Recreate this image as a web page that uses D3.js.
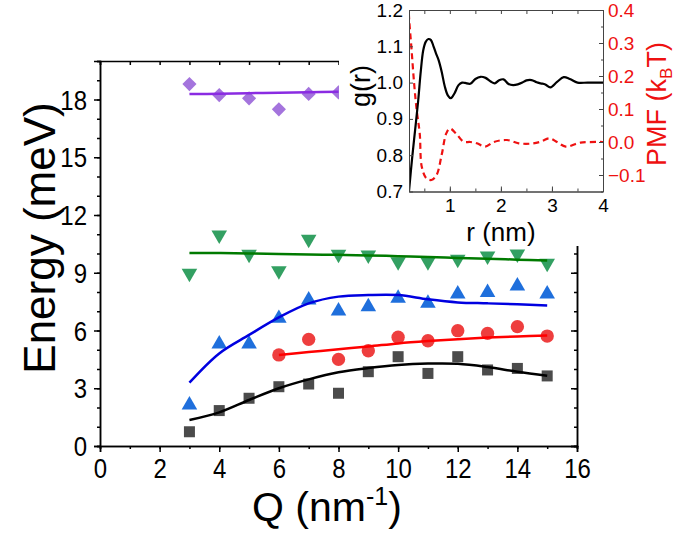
<!DOCTYPE html>
<html>
<head>
<meta charset="utf-8">
<script src="https://cdn.jsdelivr.net/npm/d3@7"></script>
<style>
  body { margin: 0; background: #fff; }
  svg { display: block; font-family: "Liberation Sans", Arial, sans-serif; }
</style>
</head>
<body>
<div class="svg-mount"></div>
<script>
// main chart data, Q in nm^-1, energies in meV
const qAll = [3, 4, 5, 6, 7, 8, 9, 10, 11, 12, 13, 14, 15];
const qRed = [6, 7, 8, 9, 10, 11, 12, 13, 14, 15];
const qPurple = [3, 4, 5, 6, 7, 8];

const blackPts = [0.74, 1.84, 2.48, 3.08, 3.22, 2.74, 3.86, 4.64, 3.77, 4.64, 3.95, 4.03, 3.64];
const blackFit = [1.35, 1.75, 2.39, 3.0, 3.46, 3.83, 4.05, 4.21, 4.28, 4.27, 4.1, 3.86, 3.65];
const redPts = [4.73, 5.54, 4.5, 4.95, 5.65, 5.47, 5.99, 5.85, 6.2, 5.71];
const redFit = [4.73, 4.88, 5.03, 5.17, 5.33, 5.45, 5.55, 5.63, 5.69, 5.74];
const bluePts = [2.13, 5.3, 5.3, 6.63, 7.58, 7.01, 7.24, 7.67, 7.41, 7.9, 7.97, 8.31, 7.9];
const blueFit = [3.29, 4.81, 5.77, 6.68, 7.41, 7.76, 7.84, 7.84, 7.62, 7.46, 7.41, 7.36, 7.3];
const greenPts = [8.97, 10.96, 9.96, 9.1, 10.74, 9.96, 9.92, 9.57, 9.57, 9.7, 9.87, 9.97, 9.49];
const greenFit = [10.02, 10.02, 10.0, 9.98, 9.95, 9.93, 9.9, 9.86, 9.82, 9.77, 9.73, 9.68, 9.63];
const purplePts = [18.8, 18.23, 18.06, 17.49, 18.29, 18.37];
const purpleFit = [18.28, 18.3, 18.33, 18.35, 18.38, 18.4];

const xTicks = [0, 2, 4, 6, 8, 10, 12, 14, 16];
const yTicks = [0, 3, 6, 9, 12, 15, 18];

// inset data: g(r) and PMF
const rG = [0.18, 0.2, 0.26, 0.32, 0.38, 0.43, 0.48, 0.53, 0.58, 0.63, 0.68, 0.73, 0.78, 0.84, 0.9, 0.96, 1.02, 1.09, 1.17, 1.24, 1.3, 1.4, 1.5, 1.6, 1.7, 1.8, 1.88, 1.96, 2.05, 2.15, 2.24, 2.33, 2.42, 2.5, 2.6, 2.7, 2.78, 2.87, 2.97, 3.1, 3.23, 3.35, 3.5, 3.7, 4.0];
const gVals = [0.66, 0.70, 0.79, 0.87, 0.95, 1.03, 1.09, 1.113, 1.12, 1.117, 1.10, 1.08, 1.062, 1.03, 0.99, 0.965, 0.957, 0.97, 0.993, 1.0, 0.999, 0.997, 1.01, 1.016, 1.013, 1.003, 0.998, 1.006, 1.009, 0.996, 0.993, 0.995, 1.0, 1.006, 1.007, 1.001, 0.998, 0.995, 0.987, 1.002, 1.015, 1.01, 1.0, 1.0, 1.0];
const rP = [0.19, 0.2, 0.25, 0.3, 0.35, 0.41, 0.45, 0.54, 0.64, 0.74, 0.84, 0.93, 1.0, 1.12, 1.27, 1.4, 1.53, 1.69, 1.86, 2.12, 2.35, 2.58, 2.78, 2.95, 3.1, 3.27, 3.56, 4.0];
const pmfVals = [0.42, 0.38, 0.28, 0.178, 0.097, 0.026, -0.075, -0.11, -0.115, -0.1, -0.039, 0.026, 0.041, 0.026, 0.001, 0.0, -0.004, -0.014, 0.0, 0.006, -0.004, -0.005, 0.001, 0.011, 0.0, -0.014, -0.002, 0.0];

const gTicks = [0.7, 0.8, 0.9, 1.0, 1.1, 1.2];
const pmfTicks = [-0.1, 0.0, 0.1, 0.2, 0.3, 0.4];
const rTicks = [1, 2, 3, 4];

const W = 677, H = 538;
const font = "'Liberation Sans', Arial, sans-serif";

const svg = d3.select(".svg-mount").append("svg")
  .attr("width", W).attr("height", H);

// ---- main chart ----
const x = d3.scaleLinear().domain([0, 16]).range([100, 577]);
const y = d3.scaleLinear().domain([0, 20]).range([446, 61]);

function styleAxis(g, sw) {
  g.select(".domain").attr("stroke", "#000").attr("stroke-width", sw);
  g.selectAll(".tick line").attr("stroke", "#000").attr("stroke-width", sw);
}

// minor ticks only, no labels
function minor(axis, tr) {
  svg.append("g").attr("transform", tr)
    .call(axis.tickFormat(""))
    .call(styleAxis, 1.5)
    .selectAll("text").remove();
}

minor(d3.axisBottom(x).tickValues(d3.range(0, 17)).tickSize(3), "translate(0,446)");
svg.append("g").attr("transform", "translate(0,446)")
  .call(d3.axisBottom(x).tickValues(xTicks).tickSize(6).tickFormat(d3.format("d")))
  .call(styleAxis, 1.5)
  .selectAll("text")
  .attr("y", null).attr("dy", null)
  .attr("transform", "translate(0,32) scale(1,1.12)")
  .attr("font-size", 24).attr("font-family", font).attr("fill", "#000");

minor(d3.axisLeft(y).tickValues(d3.range(0, 21)).tickSize(3), "translate(100,0)");
svg.append("g").attr("transform", "translate(100,0)")
  .call(d3.axisLeft(y).tickValues(yTicks).tickSize(6).tickFormat(d3.format("d")))
  .call(styleAxis, 1.5)
  .selectAll("text")
  .attr("x", null).attr("dy", "0.36em")
  .attr("transform", "translate(-13,0) scale(1,1.12)")
  .attr("font-size", 24).attr("font-family", font).attr("fill", "#000");

// mirrored axes with inward ticks
minor(d3.axisBottom(x).tickValues(d3.range(0, 17)).tickSize(4), "translate(0,61)");
minor(d3.axisLeft(y).tickValues(d3.range(0, 21)).tickSize(3), "translate(577,0)");
minor(d3.axisLeft(y).tickValues(yTicks).tickSize(6), "translate(577,0)");

const line = d3.line().x(d => x(d[0])).y(d => y(d[1])).curve(d3.curveCatmullRom);

const series = [
  { q: qAll, pts: blackPts, fit: blackFit, fill: "#4b4b4b", stroke: "#000000", sym: d3.symbolSquare, size: 121, rot: 0 },
  { q: qRed, pts: redPts, fit: redFit, fill: "#ee3e3e", stroke: "#ff0000", sym: d3.symbolCircle, size: 140, rot: 0 },
  { q: qAll, pts: bluePts, fit: blueFit, fill: "#1f6fdc", stroke: "#0000e0", sym: d3.symbolTriangle, size: 105, rot: 0 },
  { q: qAll, pts: greenPts, fit: greenFit, fill: "#33a062", stroke: "#007a00", sym: d3.symbolTriangle, size: 105, rot: 180 },
  { q: qPurple, pts: purplePts, fit: purpleFit, fill: "#a474dd", stroke: "#8a2be2", sym: d3.symbolSquare, size: 100, rot: 45 },
];

series.forEach(s => {
  svg.append("g").selectAll("path")
    .data(s.q.map((q, i) => [q, s.pts[i]]))
    .join("path")
    .attr("d", d3.symbol().type(s.sym).size(s.size))
    .attr("transform", d => `translate(${x(d[0])},${y(d[1])}) rotate(${s.rot})`)
    .attr("fill", s.fill);
  svg.append("path")
    .datum(s.q.map((q, i) => [q, s.fit[i]]))
    .attr("d", line)
    .attr("fill", "none")
    .attr("stroke", s.stroke)
    .attr("stroke-width", 2.5);
});

svg.append("text")
  .attr("transform", "translate(55,238) rotate(-90)")
  .attr("text-anchor", "middle")
  .attr("font-size", 44).attr("font-family", font)
  .text("Energy (meV)");

const xt = svg.append("text")
  .attr("x", 252).attr("y", 521)
  .attr("font-size", 41).attr("font-family", font);
xt.append("tspan").text("Q (nm");
xt.append("tspan").attr("font-size", 25).attr("dy", -16).text("-1");
xt.append("tspan").attr("dy", 16).text(")");

// ---- inset ----
svg.append("rect").attr("x", 339).attr("y", 0).attr("width", W - 339).attr("height", 246).attr("fill", "#fff");

const ix = d3.scaleLinear().domain([0.2, 4]).range([409, 603]);
const iyG = d3.scaleLinear().domain([0.7, 1.2]).range([191.5, 10]);
const iyP = d3.scaleLinear().domain([-0.15, 0.4]).range([191.5, 10]);

function styleInset(g) {
  g.select(".domain").attr("stroke", "#444").attr("stroke-width", 1);
  g.selectAll(".tick line").attr("stroke", "#444").attr("stroke-width", 1);
}
function insetMinor(axis, tr) {
  svg.append("g").attr("transform", tr)
    .call(axis.tickSizeOuter(0).tickFormat(""))
    .call(styleInset)
    .selectAll("text").remove();
}

svg.append("defs").append("clipPath").attr("id", "insetClip")
  .append("rect").attr("x", 409).attr("y", 10).attr("width", 194).attr("height", 181.5);

const gLine = d3.line().x(d => ix(d[0])).y(d => iyG(d[1])).curve(d3.curveCatmullRom);
const pLine = d3.line().x(d => ix(d[0])).y(d => iyP(d[1])).curve(d3.curveCatmullRom);

svg.append("path")
  .datum(rP.map((r, i) => [r, pmfVals[i]]))
  .attr("clip-path", "url(#insetClip)")
  .attr("d", pLine).attr("fill", "none")
  .attr("stroke", "#ee1111").attr("stroke-width", 2.2).attr("stroke-dasharray", "6,4");
svg.append("path")
  .datum(rG.map((r, i) => [r, gVals[i]]))
  .attr("clip-path", "url(#insetClip)")
  .attr("d", gLine).attr("fill", "none")
  .attr("stroke", "#000").attr("stroke-width", 2.2);

// inset axes, ticks inward
insetMinor(d3.axisBottom(ix).tickValues(d3.range(0.5, 4.01, 0.5)).tickSizeInner(-3), "translate(0,191.5)");
svg.append("g").attr("transform", "translate(0,191.5)")
  .call(d3.axisBottom(ix).tickValues(rTicks).tickSizeInner(-5).tickSizeOuter(0).tickPadding(7).tickFormat(d3.format("d")))
  .call(styleInset)
  .selectAll("text").attr("font-size", 19).attr("font-family", font).attr("fill", "#000");
insetMinor(d3.axisTop(ix).tickValues(d3.range(0.5, 4.01, 0.5)).tickSizeInner(-4), "translate(0,10)");

svg.append("g").attr("transform", "translate(409,0)")
  .call(d3.axisLeft(iyG).tickValues(gTicks).tickSizeInner(-4).tickSizeOuter(0).tickPadding(6).tickFormat(d3.format(".1f")))
  .call(styleInset)
  .selectAll("text").attr("font-size", 19).attr("font-family", font).attr("fill", "#000");

insetMinor(d3.axisRight(iyP).tickValues(d3.range(-0.15, 0.401, 0.05)).tickSizeInner(-2), "translate(603,0)");
svg.append("g").attr("transform", "translate(603,0)")
  .call(d3.axisRight(iyP).tickValues(pmfTicks).tickSizeInner(-4).tickSizeOuter(0).tickPadding(5).tickFormat(d3.format(".1f")))
  .call(styleInset)
  .selectAll("text").attr("font-size", 19).attr("font-family", font).attr("fill", "#ee1111");

svg.append("text")
  .attr("transform", "translate(370,86) rotate(-90)")
  .attr("text-anchor", "middle")
  .attr("font-size", 27).attr("font-family", font)
  .text("g(r)");

svg.append("text")
  .attr("x", 501).attr("y", 241)
  .attr("text-anchor", "middle")
  .attr("font-size", 26).attr("font-family", font)
  .text("r (nm)");

const pt = svg.append("text")
  .attr("transform", "translate(666,104) rotate(-90)")
  .attr("text-anchor", "middle")
  .attr("font-size", 27).attr("font-family", font)
  .attr("fill", "#ee1111");
pt.append("tspan").text("PMF (k");
pt.append("tspan").attr("font-size", 17).attr("dy", 6).text("B");
pt.append("tspan").attr("dy", -6).text("T)");
</script>
</body>
</html>
